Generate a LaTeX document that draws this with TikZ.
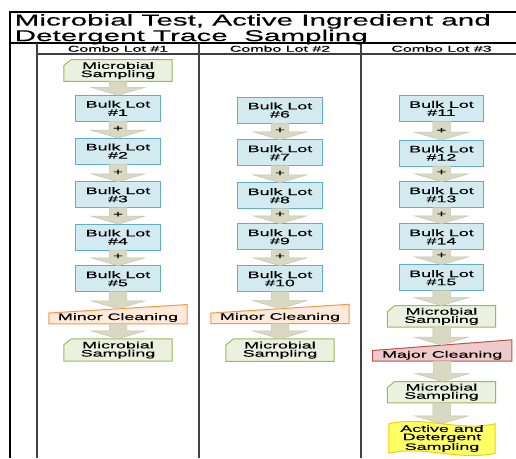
\documentclass[tikz,border=0pt]{standalone}
\usepackage{fontspec}
\setmainfont{Liberation Sans}[FakeStretch=1.9,FakeBold=0.35]
\usetikzlibrary{calc,backgrounds}
\definecolor{bulkF}{HTML}{D4EAF1}
\definecolor{bulkD}{HTML}{5FAFCB}
\definecolor{msF}{HTML}{EBF1DE}
\definecolor{msD}{HTML}{9BBB59}
\definecolor{minF}{HTML}{FDEADA}
\definecolor{minD}{HTML}{F79646}
\definecolor{majF}{HTML}{EECBCA}
\definecolor{majD}{HTML}{C0504D}
\definecolor{actF}{HTML}{FFFF66}
\definecolor{actD}{HTML}{F0D000}
\definecolor{arrF}{HTML}{D9D8C3}
\definecolor{arrD}{HTML}{C6C5B0}
\definecolor{frameG}{HTML}{404040}
\newcommand\txtfont{\fontsize{9.4}{8.2}\selectfont}
\tikzset{
  box/.style={inner sep=0pt, align=center, font=\txtfont},
  bulk/.style={box, minimum width=84pt, minimum height=25.5pt},
  card/.style={box, minimum width=108pt, minimum height=21.5pt},
  manin/.style={box, minimum width=138pt, minimum height=19pt},
  tape/.style={box, minimum width=106pt, minimum height=35pt},
  hdr/.style={inner sep=0pt, font=\fontsize{8.4}{9}\selectfont, anchor=base},
  titlestyle/.style={inner sep=0pt, anchor=north west, align=left, font=\fontsize{15.6}{14}\selectfont},
  plus/.style={inner sep=0pt, font=\fontsize{9}{9}\selectfont},
  arr/.style={fill=arrF, draw=arrD, line width=0.5pt},
  bulkshape/.style={fill=bulkF, draw=bulkD, line width=1pt},
  msshape/.style={fill=msF, draw=msD, line width=1pt},
  minshape/.style={fill=minF, draw=minD, line width=1pt},
  majshape/.style={fill=majF, draw=majD, line width=1pt},
  actshape/.style={fill=actF, draw=actD, line width=1pt},
  frameline/.style={line width=1.5pt, draw=black},
  innerline/.style={line width=1.3pt, draw=frameG},
}
\newcommand\bulkbox[1]{\draw[bulkshape] (#1.north west) rectangle (#1.south east);}
\newcommand\cardbox[1]{\draw[msshape] ([xshift=7.5pt]#1.north west) -- (#1.north east) -- (#1.south east) -- (#1.south west) -- ([yshift=-6pt]#1.north west) -- cycle;}
\newcommand\maninbox[3]{\draw[#2] ([yshift=-#3]#1.north west) -- (#1.north east) -- (#1.south east) -- (#1.south west) -- cycle;}
\newcommand\tapebox[1]{\draw[actshape] let \p1=(#1.north west), \p2=(#1.south east) in
  (\x1,\y1-3pt) .. controls (\x1+35pt,\y1+5pt) and (\x2-35pt,\y1-11pt) .. (\x2,\y1-3pt)
  -- (\x2,\y2+3pt) .. controls (\x2-35pt,\y2-5pt) and (\x1+35pt,\y2+11pt) .. (\x1,\y2+3pt) -- cycle;}
\newcommand\barrow[2]{\draw[arr] let \p1=(#1), \p2=(#2) in
  (\x1-8.75pt,\y1) -- (\x1+8.75pt,\y1) -- (\x1+8.75pt,\y2+8pt) -- (\x1+27pt,\y2+8pt)
  -- (\x1,\y2) -- (\x1-27pt,\y2+8pt) -- (\x1-8.75pt,\y2+8pt) -- cycle;}
\newcommand\barrowp[3]{\barrow{#1}{#2}
  \path let \p1=(#1), \p2=(#2) in node[plus] (#3) at (\x1,\y2+9.5pt) {+};}
\begin{document}
\begin{tikzpicture}[x=1pt,y=-1pt]
\useasboundingbox (0,0) rectangle (516,458);
% frame
\draw[frameline] (10,458) -- (10,12) -- (516,12);
\draw[frameline] (10,43) -- (516,43);
\draw[innerline] (37,54) -- (516,54);
\draw[innerline] (37,43) -- (37,458);
\draw[innerline] (199,43) -- (199,458);
\draw[innerline] (361,43) -- (361,458);
% title and headers
\node[titlestyle] (title) at (14.5,14) {Microbial Test, Active Ingredient and\\Detergent Trace~~Sampling};
\node[hdr] (h1) at (118,51.7) {Combo Lot \#1};
\node[hdr] (h2) at (280,51.7) {Combo Lot \#2};
\node[hdr] (h3) at (441.5,51.7) {Combo Lot \#3};
% column 1
\node[card] (ms1) at (118,70.5) {Microbial\\Sampling};
\node[bulk] (bl1) at (118,108.25) {Bulk Lot\\\#1};
\node[bulk] (bl2) at (118,151.05) {Bulk Lot\\\#2};
\node[bulk] (bl3) at (118,194.75) {Bulk Lot\\\#3};
\node[bulk] (bl4) at (118,237.05) {Bulk Lot\\\#4};
\node[bulk] (bl5) at (118,278.75) {Bulk Lot\\\#5};
\node[manin, text height=11.5pt, text depth=0pt] (mc1) at (118,314.25) {Minor Cleaning};
\node[card, minimum height=22pt] (ms2) at (118,350) {Microbial\\Sampling};
% column 2
\node[bulk] (bl6) at (280,110.05) {Bulk Lot\\\#6};
\node[bulk] (bl7) at (280,152.75) {Bulk Lot\\\#7};
\node[bulk] (bl8) at (280,195.75) {Bulk Lot\\\#8};
\node[bulk] (bl9) at (280,236.75) {Bulk Lot\\\#9};
\node[bulk] (bl10) at (280,278.75) {Bulk Lot\\\#10};
\node[manin, text height=11.5pt, text depth=0pt] (mc2) at (280,314) {Minor Cleaning};
\node[card, minimum height=22pt] (ms3) at (280,350.15) {Microbial\\Sampling};
% column 3
\node[bulk] (bl11) at (441.5,108.45) {Bulk Lot\\\#11};
\node[bulk] (bl12) at (441.5,153.1) {Bulk Lot\\\#12};
\node[bulk] (bl13) at (441.5,194.75) {Bulk Lot\\\#13};
\node[bulk] (bl14) at (441.5,236.75) {Bulk Lot\\\#14};
\node[bulk] (bl15) at (441.5,277.75) {Bulk Lot\\\#15};
\node[card, minimum height=21pt] (ms4) at (441.5,316.35) {Microbial\\Sampling};
\node[manin, minimum width=139pt, minimum height=21pt, text height=14.4pt, text depth=0pt] (mj) at (442.2,350.5) {Major Cleaning};
\node[card, minimum height=21pt] (ms5) at (441.5,392.2) {Microbial\\Sampling};
\node[tape] (act) at (442,438.5) {Active and\\Detergent\\Sampling};
% shapes behind the texts
\begin{scope}[on background layer]
  \cardbox{ms1}\cardbox{ms2}\cardbox{ms3}\cardbox{ms4}\cardbox{ms5}
  \bulkbox{bl1}\bulkbox{bl2}\bulkbox{bl3}\bulkbox{bl4}\bulkbox{bl5}
  \bulkbox{bl6}\bulkbox{bl7}\bulkbox{bl8}\bulkbox{bl9}\bulkbox{bl10}
  \bulkbox{bl11}\bulkbox{bl12}\bulkbox{bl13}\bulkbox{bl14}\bulkbox{bl15}
  \maninbox{mc1}{minshape}{8.5pt}
  \maninbox{mc2}{minshape}{8.8pt}
  \maninbox{mj}{majshape}{10.7pt}
  \tapebox{act}
\end{scope}
% connectors
\barrow{ms1.south}{bl1.north}
\barrowp{bl1.south}{bl2.north}{p1}
\barrowp{bl2.south}{bl3.north}{p2}
\barrowp{bl3.south}{bl4.north}{p3}
\barrowp{bl4.south}{bl5.north}{p4}
\barrow{bl5.south}{$(mc1.north)+(0,4.25)$}
\barrow{mc1.south}{ms2.north}
\barrowp{bl6.south}{bl7.north}{p6}
\barrowp{bl7.south}{bl8.north}{p7}
\barrowp{bl8.south}{bl9.north}{p8}
\barrowp{bl9.south}{bl10.north}{p9}
\barrow{bl10.south}{$(mc2.north)+(0,4.4)$}
\barrow{mc2.south}{ms3.north}
\barrowp{bl11.south}{bl12.north}{p11}
\barrowp{bl12.south}{bl13.north}{p12}
\barrowp{bl13.south}{bl14.north}{p13}
\barrowp{bl14.south}{bl15.north}{p14}
\barrow{bl15.south}{ms4.north}
\barrow{ms4.south}{$(mj.north)+(0,5.35)$}
\barrow{mj.south}{ms5.north}
\barrow{ms5.south}{$(act.north)+(0,3)$}
\end{tikzpicture}
\end{document}
